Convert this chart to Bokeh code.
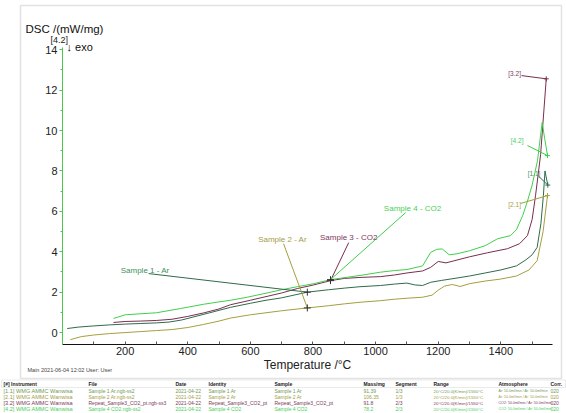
import numpy as np
from bokeh.plotting import figure
from bokeh.models import Range1d, FixedTicker, Label, PolyAnnotation
from bokeh.embed import file_html
from bokeh.resources import INLINE

# ---------------- data ----------------
s1_T = [15, 50, 100, 150, 200, 250, 300, 340, 380, 420, 470, 537, 600, 650, 700, 782, 850, 900, 950,
        1016, 1060, 1100, 1125, 1150, 1176, 1210, 1260, 1300, 1350, 1400, 1450, 1480, 1500, 1516,
        1528, 1536, 1541, 1546, 1550]
s1_v = [0.2, 0.27, 0.33, 0.38, 0.42, 0.45, 0.48, 0.52, 0.62, 0.78, 0.98, 1.25, 1.45, 1.6, 1.72, 2.0, 2.12,
        2.2, 2.27, 2.33, 2.4, 2.45, 2.36, 2.33, 2.49, 2.58, 2.7, 2.8, 2.95, 3.1, 3.3, 3.6, 3.85, 4.22,
        5.4, 6.8, 8.0, 7.6, 7.3]

s2_T = [25, 60, 100, 150, 200, 250, 300, 350, 400, 450, 500, 537, 600, 650, 700, 782, 850, 900, 950,
        1016, 1060, 1100, 1150, 1180, 1200, 1220, 1245, 1270, 1300, 1350, 1400, 1450, 1490, 1516, 1535, 1549]
s2_v = [-0.35, -0.2, -0.12, -0.05, 0.0, 0.05, 0.1, 0.15, 0.25, 0.4, 0.57, 0.72, 0.88, 0.98, 1.08, 1.22,
        1.33, 1.42, 1.5, 1.58, 1.65, 1.7, 1.75, 1.85, 2.1, 2.3, 2.38, 2.28, 2.42, 2.55, 2.65, 2.8, 3.1,
        3.56, 5.0, 6.78]

s3_T = [163, 200, 250, 300, 350, 400, 450, 500, 537, 600, 650, 700, 750, 800, 856, 900, 950, 1016, 1060,
        1100, 1150, 1176, 1200, 1225, 1250, 1300, 1357, 1421, 1460, 1485, 1500, 1511, 1527, 1545]
s3_v = [0.5, 0.55, 0.57, 0.6, 0.66, 0.8, 0.97, 1.17, 1.38, 1.6, 1.78, 1.96, 2.18, 2.35, 2.57, 2.68, 2.73,
        2.77, 2.85, 2.95, 3.05, 3.23, 3.52, 3.45, 3.55, 3.75, 3.95, 4.15, 4.4, 4.8, 5.6, 6.8, 8.8, 12.56]

s4_T = [163, 180, 200, 250, 300, 377, 450, 500, 537, 590, 650, 700, 750, 803, 856, 910, 960, 1016, 1060,
        1100, 1150, 1176, 1195, 1213, 1235, 1260, 1300, 1350, 1389, 1431, 1450, 1470, 1485, 1500, 1517,
        1532, 1540, 1549]
s4_v = [0.7, 0.78, 0.88, 0.93, 0.98, 1.19, 1.4, 1.52, 1.6, 1.75, 1.95, 2.12, 2.27, 2.42, 2.62, 2.74, 2.85,
        2.99, 3.07, 3.12, 3.3, 3.97, 4.12, 4.14, 3.85, 3.9, 4.05, 4.3, 4.64, 4.8, 5.1, 5.8, 6.5, 7.3, 8.5,
        10.4, 9.6, 8.76]

series_names = ["Sample 1 - Ar", "Sample 2 - Ar", "Sample 3 - CO2", "Sample 4 - CO2"]
series_ids = ["[1.1]", "[2.1]", "[3.2]", "[4.2]"]
marker_T = [782, 782, 856, 856]

x_ticks = [200, 400, 600, 800, 1000, 1200, 1400]
x_minor = [100, 300, 500, 700, 900, 1100, 1300, 1500]
y_ticks = [0, 2, 4, 6, 8, 10, 12, 14]
y_minor = [1, 3, 5, 7, 9, 11, 13]

table_header = ["[#] Instrument", "File", "Date", "Identity", "Sample", "Mass/mg", "Segment", "Range",
                "Atmosphere", "Corr."]
table_rows = [
    ["[1.1] WMG AMMC Wanwisa", "Sample 1 Ar.ngb-ss2", "2021-04-22", "Sample 1 Ar", "Sample 1 Ar", "91.39",
     "1/3", "20°C/20.0(K/min)/1550°C", "Ar: 50.0ml/min / Ar: 50.0ml/min", "020"],
    ["[2.1] WMG AMMC Wanwisa", "Sample 2 Ar.ngb-ss2", "2021-04-22", "Sample 2 Ar", "Sample 2 Ar", "106.35",
     "1/3", "20°C/20.0(K/min)/1550°C", "Ar: 50.0ml/min / Ar: 50.0ml/min", "020"],
    ["[3.2] WMG AMMC Wanwisa", "Repeat_Sample3_CO2_pt.ngb-ss3", "2021-04-22", "Repeat_Sample3_CO2_pt",
     "Repeat_Sample3_CO2_pt", "91.8", "2/3", "20°C/20.0(K/min)/1550°C", "CO2: 50.0ml/min / Ar: 50.0ml/min", "020"],
    ["[4.2] WMG AMMC Wanwisa", "Sample 4 CO2.ngb-ss2", "2021-04-22", "Sample 4 CO2", "Sample 4 CO2", "78.2",
     "2/3", "20°C/20.0(K/min)/1550°C", "CO2: 50.0ml/min / Ar: 50.0ml/min", "020"],
]

# ---------------- styling / geometry ----------------
FONT = "Liberation Sans"
curve_colors = ["#2f6b4a", "#a59f3e", "#7b2d4f", "#3fcf4d"]
text_colors = ["#3f8f5c", "#a39d48", "#7d3a5c", "#49cf58"]

W, H = 566, 413
AL, AR, AT, AB = 62, 552, 47, 344
X0, X1 = 0, 1565
Y0, Y1 = -0.59, 14.11
sx = (X1 - X0) / (AR - AL)
sy = (Y1 - Y0) / (AB - AT)


def dx(px):
    return X0 + (px - AL) * sx


def dy(py):
    return Y1 - (py - AT) * sy


p = figure(width=W, height=H, x_range=Range1d(dx(0), dx(W)), y_range=Range1d(dy(H), dy(0)),
           output_backend="svg", toolbar_location=None,
           min_border=0, min_border_left=0, min_border_right=0, min_border_top=0, min_border_bottom=0)
p.outline_line_color = None
p.grid.visible = False
p.background_fill_color = "white"
p.border_fill_color = "white"

p.xaxis.fixed_location = Y0
p.xaxis.bounds = (X0, X1)
p.yaxis.fixed_location = X0
p.yaxis.bounds = (Y0, Y1)

p.xaxis.ticker = FixedTicker(ticks=x_ticks, minor_ticks=x_minor)
p.yaxis.ticker = FixedTicker(ticks=y_ticks, minor_ticks=y_minor)
p.xaxis.axis_label = "Temperature /°C"
p.xaxis.axis_label_text_font = FONT
p.xaxis.axis_label_text_font_style = "normal"
p.xaxis.axis_label_text_font_size = "12px"
p.xaxis.axis_label_text_color = "#222222"
p.xaxis.axis_label_standoff = 0
for ax in (p.xaxis, p.yaxis):
    ax.major_label_text_font = FONT
    ax.major_label_text_font_size = "11px"
    ax.major_label_text_color = "#222222"
    ax.major_label_standoff = 2
p.xaxis.axis_line_color = "#111111"
p.xaxis.major_tick_line_color = "#555555"
p.xaxis.minor_tick_line_color = "#555555"
p.xaxis.major_tick_in = 3
p.xaxis.major_tick_out = 0
p.xaxis.minor_tick_in = 3
p.xaxis.minor_tick_out = 0
p.yaxis.axis_line_color = "#4cc84c"
p.yaxis.major_tick_line_color = "#4cc84c"
p.yaxis.minor_tick_line_color = "#4cc84c"
p.yaxis.major_tick_out = 3
p.yaxis.major_tick_in = 0
p.yaxis.minor_tick_out = 2
p.yaxis.minor_tick_in = 0

all_T = [s1_T, s2_T, s3_T, s4_T]
all_v = [s1_v, s2_v, s3_v, s4_v]
for Ts, vs, c in zip(all_T, all_v, curve_colors):
    p.line(Ts, vs, line_color=c, line_width=1)

# leader labels for sample names
name_pos = [(264, 3.07, 275, 2.92), (703, 4.6, 706, 4.4), (914, 4.7, 914, 4.45), (1118, 6.14, 1096, 5.94)]
for i in range(4):
    tx, ty, lx, ly = name_pos[i]
    mt = marker_T[i]
    mv = float(np.interp(mt, all_T[i], all_v[i]))
    p.segment(x0=[lx], y0=[ly], x1=[mt], y1=[mv], line_color=curve_colors[i], line_width=1)
    p.scatter([mt], [mv], marker="cross", size=7, line_color="#333333", line_width=1)
    p.add_layout(Label(x=tx, y=ty, text=series_names[i], text_font=FONT, text_font_size="8px",
                       text_color=text_colors[i], text_align="center", text_baseline="middle"))

# id labels at curve ends
id_pos = [(1506, 7.85, 1520, 7.75), (1444, 6.34, 1463, 6.39), (1444, 12.82, 1466, 12.72), (1452, 9.5, 1485, 9.26)]
for i in range(4):
    tx, ty, lx, ly = id_pos[i]
    et, ev = all_T[i][-1], all_v[i][-1]
    p.segment(x0=[lx], y0=[ly], x1=[et], y1=[ev], line_color=curve_colors[i], line_width=1)
    p.scatter([et], [ev], marker="cross", size=5, line_color=curve_colors[i], line_width=1)
    p.add_layout(Label(x=tx, y=ty, text=series_ids[i], text_font=FONT, text_font_size="6.5px",
                       text_color=text_colors[i], text_align="center", text_baseline="middle"))

# y-axis title and exo marker
p.add_layout(Label(x=dx(25), y=dy(28), text="DSC /(mW/mg)", text_font=FONT, text_font_size="11.5px",
                   text_color="#111111", text_align="left", text_baseline="middle"))
p.add_layout(Label(x=dx(50), y=dy(39), text="[4.2]", text_font=FONT, text_font_size="9px",
                   text_color="#222222", text_align="left", text_baseline="middle"))
p.add_layout(Label(x=dx(66), y=dy(46), text="↓ exo", text_font=FONT, text_font_size="11px",
                   text_color="#111111", text_align="left", text_baseline="middle"))

# footer
p.add_layout(Label(x=dx(27), y=dy(369), text="Main   2021-06-04 12:02    User: User", text_font=FONT,
                   text_font_size="5.5px", text_color="#444444", text_align="left", text_baseline="middle"))

# outer border and table lines
p.add_layout(PolyAnnotation(xs=[dx(20), dx(561), dx(561), dx(20)], ys=[dy(5), dy(5), dy(378), dy(378)],
                            fill_alpha=0, line_color="#a0a0a0", line_width=1.5))
p.add_layout(PolyAnnotation(xs=[dx(1), dx(565), dx(565), dx(1)], ys=[dy(379.5), dy(379.5), dy(387), dy(387)],
                            fill_alpha=0, line_color="#bbbbbb", line_width=1))

col_x = [3, 88, 175, 208, 274, 363, 395, 433, 498, 550]
col_fs = [5.6, 5.0, 5.0, 5.0, 5.0, 5.0, 5.0, 4.4, 3.6, 5.0]
row_y = [383.3, 390.5, 396.5, 402.5, 408.5]
row_colors = ["#6f9a55", "#a39d48", "#7d3a5c", "#49cf58"]
for j, h in enumerate(table_header):
    p.add_layout(Label(x=dx(col_x[j]), y=dy(row_y[0]), text=h, text_font=FONT, text_font_size="5px",
                       text_font_style="bold", text_color="#222222", text_align="left", text_baseline="middle"))
for r, row in enumerate(table_rows):
    for j, cell in enumerate(row):
        p.add_layout(Label(x=dx(col_x[j]), y=dy(row_y[r + 1]), text=cell, text_font=FONT,
                           text_font_size=f"{col_fs[j]}px", text_color=row_colors[r],
                           text_align="left", text_baseline="middle"))

open("out.html", "w").write(file_html(p, INLINE))
